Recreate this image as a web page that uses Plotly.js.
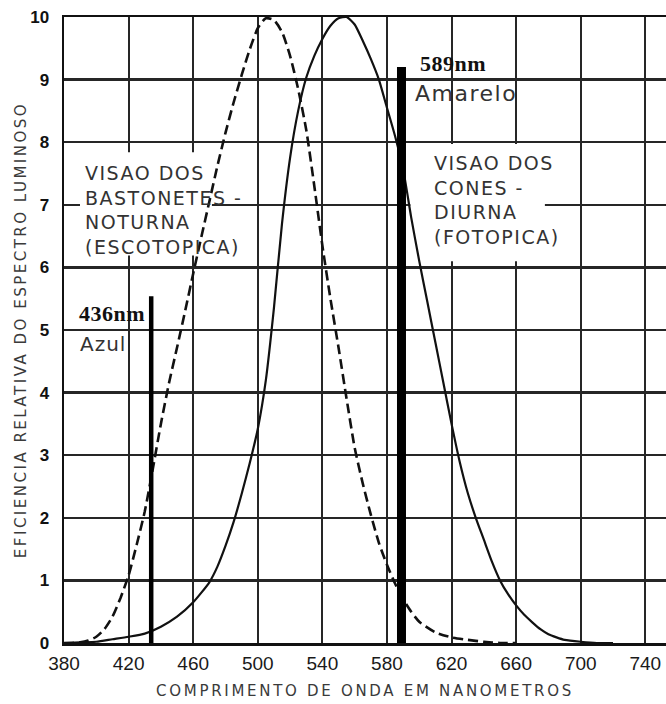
<!DOCTYPE html>
<html>
<head>
<meta charset="utf-8">
<script src="https://cdn.plot.ly/plotly-3.0.1.min.js"></script>
<style>
  html, body { margin: 0; padding: 0; background: #ffffff; }
  #chart { width: 666px; height: 704px; }
</style>
</head>
<body>
<div id="chart"></div>
<script>
// Photopic (cones, daylight) relative efficiency, solid curve
const photopicNm = [380,390,400,410,420,430,440,450,460,470,475,480,485,490,495,500,505,510,515,520,525,530,535,540,545,550,555,560,565,570,575,580,585,590,595,600,605,610,615,620,625,630,635,640,645,650,655,660,665,670,675,680,685,690,700,710,720];
const photopicVal = [0,0.01,0.02,0.06,0.1,0.15,0.26,0.42,0.65,0.97,1.22,1.55,1.93,2.38,2.87,3.42,4.2,5.35,6.7,7.75,8.5,9.03,9.38,9.65,9.86,9.98,10,9.88,9.62,9.33,9.0,8.55,8.1,7.57,6.8,6.1,5.45,4.8,4.15,3.5,2.9,2.4,2.0,1.65,1.3,1.0,0.78,0.6,0.45,0.33,0.22,0.14,0.09,0.05,0.02,0,0];

// Scotopic (rods, night) relative efficiency, dashed curve
const scotopicNm = [380,385,390,395,400,405,410,415,420,425,430,435,440,445,450,455,460,465,470,475,480,485,490,495,500,505,510,515,520,525,530,535,540,545,550,555,560,565,570,575,580,585,590,595,600,610,620,630,640,650,660];
const scotopicVal = [0,0,0.01,0.04,0.1,0.22,0.42,0.72,1.08,1.57,2.1,2.78,3.5,4.15,4.72,5.3,5.9,6.48,7.05,7.62,8.15,8.63,9.07,9.48,9.82,9.98,9.95,9.76,9.38,8.85,8.2,7.3,6.35,5.5,4.72,3.9,3.12,2.55,2.05,1.6,1.25,0.95,0.7,0.5,0.34,0.17,0.09,0.05,0.02,0,0];

// Monochromatic lines (spectral bars)
const lineNm = [434, 589];
const lineHeight = [5.54, 9.2];
const lineLabels = ['436nm', '589nm'];
const lineNames = ['Azul', 'Amarelo'];

// Axis ticks
const xTicks = [380,420,460,500,540,580,620,660,700,740];
const yTicks = [0,1,2,3,4,5,6,7,8,9,10];

const xTitle = 'COMPRIMENTO DE ONDA EM NANOMETROS';
const yTitle = 'EFICIENCIA RELATIVA DO ESPECTRO LUMINOSO';
const rodText = ['VISAO DOS', 'BASTONETES -', 'NOTURNA', '(ESCOTOPICA)'];
const coneText = ['VISAO DOS', 'CONES -', 'DIURNA', '(FOTOPICA)'];

function spaced(t, px) { return '<span style="letter-spacing:' + px + 'px">' + t + '</span>'; }

const traces = [
  { x: scotopicNm, y: scotopicVal, type: 'scatter', mode: 'lines', name: 'Escotópica',
    line: { color: '#111', width: 2.6, dash: '10px,5px', shape: 'spline', smoothing: 0.6 }, hoverinfo: 'skip' },
  { x: photopicNm, y: photopicVal, type: 'scatter', mode: 'lines', name: 'Fotópica',
    line: { color: '#111', width: 2.2, shape: 'spline', smoothing: 0.6 }, hoverinfo: 'skip' },
  { x: [lineNm[0], lineNm[0]], y: [0, lineHeight[0]], type: 'scatter', mode: 'lines', name: lineNames[0],
    line: { color: '#000', width: 4.5 }, hoverinfo: 'skip' },
  { x: [lineNm[1], lineNm[1]], y: [0, lineHeight[1]], type: 'scatter', mode: 'lines', name: lineNames[1],
    line: { color: '#000', width: 9 }, hoverinfo: 'skip' }
];

const sansText = { family: 'DejaVu Sans', size: 19, color: '#333' };
const serifBold = { family: 'Liberation Serif', size: 22, color: '#111', weight: 'bold' };

const layout = {
  width: 666, height: 704,
  margin: { l: 64, r: 0, t: 17, b: 61, pad: 0 },
  paper_bgcolor: '#ffffff', plot_bgcolor: '#ffffff',
  showlegend: false,
  xaxis: {
    range: [380, 752.8], tickmode: 'array', tickvals: xTicks, ticktext: xTicks.map(String),
    showgrid: true, gridcolor: '#262626', gridwidth: 2,
    showline: true, linecolor: '#111', linewidth: 2.5, mirror: true,
    zeroline: false, ticks: '', ticklabelstandoff: 2, automargin: false,
    tickfont: { family: 'Liberation Sans', size: 19, color: '#1a1a1a' },
    title: { text: spaced(xTitle, 2.7), font: { family: 'DejaVu Sans', size: 15, color: '#3a3a3a' }, standoff: 12 }
  },
  yaxis: {
    range: [0, 10], tickmode: 'array', tickvals: yTicks, ticktext: yTicks.map(String),
    showgrid: true, gridcolor: '#262626', gridwidth: 2.5,
    showline: true, linecolor: '#111', linewidth: 2.5, mirror: false,
    zeroline: false, ticks: '', ticklabelstandoff: 9, automargin: false,
    tickfont: { family: 'Liberation Sans', size: 17, color: '#111', weight: 'bold' },
    title: { text: spaced(yTitle, 2.5), font: { family: 'DejaVu Sans', size: 15, color: '#3a3a3a' }, standoff: 0 }
  },
  shapes: [
    { type: 'rect', xref: 'x', yref: 'y', x0: 389.9, x1: 471.6, y0: 6.19, y1: 7.84,
      fillcolor: '#ffffff', line: { width: 0 }, layer: 'between' },
    { type: 'rect', xref: 'x', yref: 'y', x0: 594.5, x1: 677.8, y0: 6.1, y1: 7.97,
      fillcolor: '#ffffff', line: { width: 0 }, layer: 'between' }
  ],
  annotations: [
    { x: 599.2, y: 9.26, xref: 'x', yref: 'y', text: spaced(lineLabels[1], 0.5), showarrow: false,
      xanchor: 'left', yanchor: 'middle', font: serifBold },
    { x: 596.1, y: 8.78, xref: 'x', yref: 'y', text: spaced(lineNames[1], 1.5), showarrow: false,
      xanchor: 'left', yanchor: 'middle', font: { family: 'DejaVu Sans', size: 22, color: '#333' } },
    { x: 388, y: 5.26, xref: 'x', yref: 'y', text: spaced(lineLabels[0], 0.5), showarrow: false,
      xanchor: 'left', yanchor: 'middle', font: serifBold },
    { x: 388.7, y: 4.78, xref: 'x', yref: 'y', text: spaced(lineNames[0], 1), showarrow: false,
      xanchor: 'left', yanchor: 'middle', font: { family: 'DejaVu Sans', size: 20, color: '#333' } },
    { x: 391.8, y: 6.91, xref: 'x', yref: 'y', text: rodText.map(t => spaced(t, 1.5)).join('<br>'), showarrow: false,
      xanchor: 'left', yanchor: 'middle', align: 'left', font: sansText },
    { x: 607.9, y: 7.08, xref: 'x', yref: 'y', text: coneText.map(t => spaced(t, 1.5)).join('<br>'), showarrow: false,
      xanchor: 'left', yanchor: 'middle', align: 'left', font: sansText }
  ]
};

Plotly.newPlot('chart', traces, layout, { displayModeBar: false, staticPlot: true });
</script>
</body>
</html>
